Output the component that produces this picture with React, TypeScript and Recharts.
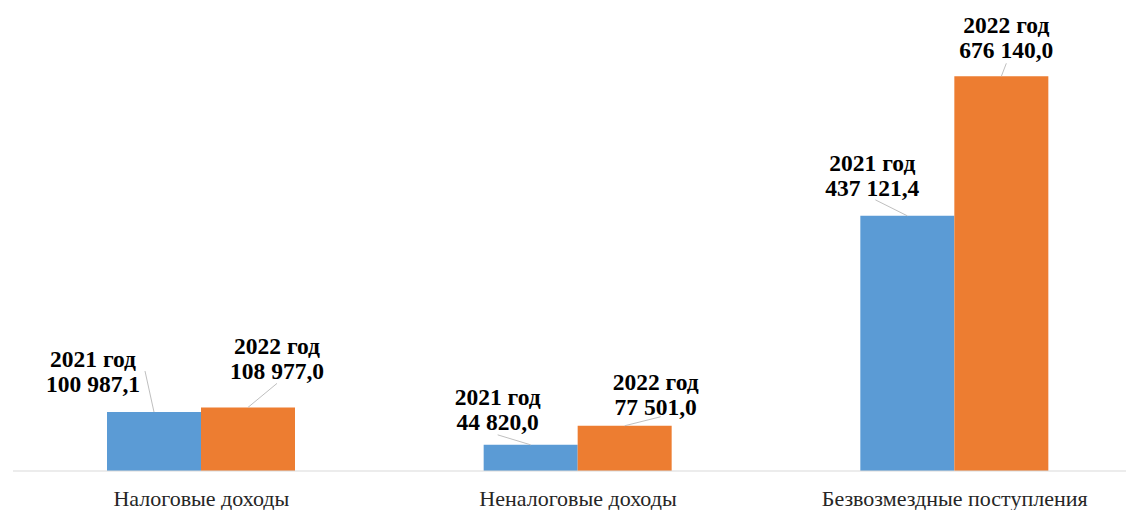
import { Bar, BarChart, LabelList, XAxis, YAxis } from "recharts";

const categories = ["Налоговые доходы", "Неналоговые доходы", "Безвозмездные поступления"];
const values2021 = [100987.1, 44820.0, 437121.4];
const values2022 = [108977.0, 77501.0, 676140.0];
const seriesNames = ["2021 год", "2022 год"];

const BLUE = "#5B9BD5";
const ORANGE = "#ED7D31";
const SERIF = "Liberation Serif";

// label placement relative to the top centre of each bar: text centre (dx, dy of 2nd line), leader end (lx, ly)
const labelOffsets2021 = [
  { dx: -61, dy: -28, lx: -9, ly: -41 },
  { dx: -33, dy: -23, lx: -33, ly: -10 },
  { dx: -35, dy: -28, lx: -32, ly: -16 },
];
const labelOffsets2022 = [
  { dx: 29, dy: -36, lx: 29, ly: -24 },
  { dx: 31, dy: -19, lx: 36, ly: -9 },
  { dx: 5, dy: -26, lx: 5, ly: -13 },
];

const data = categories.map((name, i) => ({
  name,
  y2021: values2021[i],
  y2022: values2022[i],
}));

const formatValue = (v: number) => {
  const [int, dec] = v.toFixed(1).split(".");
  return int.replace(/\B(?=(\d{3})+(?!\d))/g, " ") + "," + dec;
};

const makeLabel = (series: string, offsets: typeof labelOffsets2021) => (props: any) => {
  const { x, y, width, value, index } = props;
  const o = offsets[index];
  const cx = Number(x) + Number(width) / 2;
  const top = Number(y);
  return (
    <g>
      <line x1={cx} y1={top} x2={cx + o.lx} y2={top + o.ly} stroke="#bfbfbf" strokeWidth={1} />
      <text
        x={cx + o.dx}
        textAnchor="middle"
        fontFamily={SERIF}
        fontWeight={700}
        fontSize={23.5}
        fill="#000"
      >
        <tspan x={cx + o.dx} y={top + o.dy - 25 + 8}>{series}</tspan>
        <tspan x={cx + o.dx} y={top + o.dy + 8}>{formatValue(Number(value))}</tspan>
      </text>
    </g>
  );
};

const CategoryTick = (props: any) => {
  const { x, y, payload } = props;
  return (
    <text
      x={x}
      y={Number(y) + 27}
      textAnchor="middle"
      fontFamily={SERIF}
      fontSize={22}
      fill="#262626"
    >
      {payload.value}
    </text>
  );
};

export default function App() {
  return (
    <div style={{ position: "absolute", left: 0, top: 0, width: 1126, height: 510, overflow: "hidden", background: "#fff" }}>
      <BarChart
        width={1160}
        height={510}
        data={data}
        margin={{ top: 4, right: 17, bottom: 0, left: 13 }}
        barGap={0}
        barSize={94}
      >
        <XAxis
          dataKey="name"
          axisLine={{ stroke: "#d9d9d9" }}
          tickLine={false}
          tick={<CategoryTick />}
          interval={0}
          height={39}
        />
        <YAxis hide domain={[0, 800000]} />
        <Bar dataKey="y2021" fill={BLUE} isAnimationActive={false}>
          <LabelList dataKey="y2021" content={makeLabel(seriesNames[0], labelOffsets2021)} />
        </Bar>
        <Bar dataKey="y2022" fill={ORANGE} isAnimationActive={false}>
          <LabelList dataKey="y2022" content={makeLabel(seriesNames[1], labelOffsets2022)} />
        </Bar>
      </BarChart>
    </div>
  );
}
